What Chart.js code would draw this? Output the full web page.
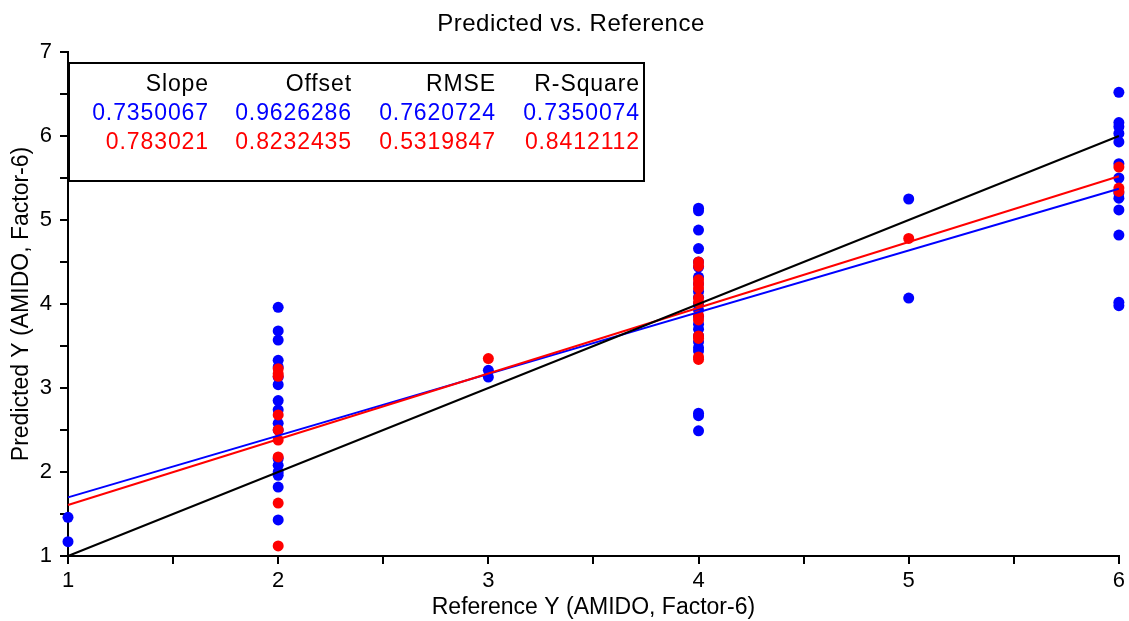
<!DOCTYPE html>
<html>
<head>
<meta charset="utf-8">
<script src="https://cdn.jsdelivr.net/npm/chart.js@4.4.1/dist/chart.umd.min.js"></script>
<style>
    body { margin: 0; background: #fff; }
    #wrap { width: 1129px; height: 621px; }
</style>
</head>
<body>
<div id="wrap"><canvas id="chart"></canvas></div>
<script>
// reference levels and predicted values
const refLevels = [1, 2, 3, 4, 5, 6];
const bluePred = [
    [1.46, 1.17],
    [3.96, 3.68, 3.57, 3.33, 3.25, 3.13, 3.04, 2.85, 2.74, 2.58, 2.50, 2.16, 2.08, 2.00, 1.96, 1.82, 1.43],
    [3.21, 3.13],
    [5.14, 5.11, 4.88, 4.66, 4.50, 4.44, 4.32, 4.24, 4.15, 4.08, 4.00, 3.93, 3.85, 3.76, 3.70, 3.62, 3.55, 3.48, 3.44, 2.70, 2.67, 2.49],
    [5.25, 4.07],
    [6.52, 6.16, 6.11, 6.03, 5.93, 5.67, 5.50, 5.32, 5.26, 5.12, 4.82, 4.02, 3.98]
];
const redPred = [
    [],
    [3.23, 3.17, 3.14, 2.68, 2.50, 2.38, 2.18, 1.63, 1.12],
    [3.35],
    [4.50, 4.45, 4.29, 4.24, 4.19, 4.07, 4.02, 3.86, 3.81, 3.62, 3.59, 3.37, 3.34],
    [4.78],
    [5.63, 5.38, 5.34]
];

// fit statistics shown in the box
const statHeaders = ["Slope", "Offset", "RMSE", "R-Square"];
const blueStats = ["0.7350067", "0.9626286", "0.7620724", "0.7350074"];
const redStats = ["0.783021", "0.8232435", "0.5319847", "0.8412112"];
const fitSlope = [0.7350067, 0.783021];
const fitOffset = [0.9626286, 0.8232435];

const FONT = "'Liberation Sans', Arial, sans-serif";

function toPoints(preds) {
    const pts = [];
    for (let i = 0; i < refLevels.length; i++) {
        for (let j = 0; j < preds[i].length; j++) {
            pts.push({ x: refLevels[i], y: preds[i][j] });
        }
    }
    return pts;
}

function fitLine(k) {
    const x0 = refLevels[0], x1 = refLevels[refLevels.length - 1];
    return [{ x: x0, y: fitSlope[k] * x0 + fitOffset[k] }, { x: x1, y: fitSlope[k] * x1 + fitOffset[k] }];
}

const extras = {
    id: 'extras',
    afterDraw(chart) {
        const ctx = chart.ctx;
        ctx.save();
        ctx.fillStyle = '#000';
        ctx.letterSpacing = '0.5px';
        ctx.font = "24px " + FONT;
        ctx.textAlign = 'center';
        ctx.textBaseline = 'alphabetic';
        ctx.fillText("Predicted vs. Reference", 571, 31);

        // stats box
        ctx.fillStyle = '#fff';
        ctx.fillRect(69, 63, 575, 118);
        ctx.strokeStyle = '#000';
        ctx.lineWidth = 2;
        ctx.strokeRect(69, 63, 575, 118);

        const colRight = [209, 352, 496, 640];
        ctx.textAlign = 'right';
        ctx.font = "23px " + FONT;
        ctx.letterSpacing = '0.9px';
        for (let i = 0; i < 4; i++) {
            ctx.fillStyle = '#000';
            ctx.fillText(statHeaders[i], colRight[i], 91);
            ctx.fillStyle = '#0000ff';
            ctx.fillText(blueStats[i], colRight[i], 120);
            ctx.fillStyle = '#ff0000';
            ctx.fillText(redStats[i], colRight[i], 149);
        }
        ctx.restore();
    }
};

const axisCommon = {
    type: 'linear',
    border: { color: '#000', width: 2 },
    grid: { drawOnChartArea: false, drawTicks: true, tickLength: 8, color: '#000', lineWidth: 2 }
};

new Chart(document.getElementById('chart'), {
    type: 'scatter',
    data: {
        datasets: [
            { data: [{ x: 1, y: 1 }, { x: 6, y: 6 }], showLine: true, borderColor: '#000', borderWidth: 2, pointRadius: 0, order: 0, clip: false },
            { data: fitLine(1), showLine: true, borderColor: '#ff0000', borderWidth: 2, pointRadius: 0, order: 1, clip: false },
            { data: fitLine(0), showLine: true, borderColor: '#0000ff', borderWidth: 2, pointRadius: 0, order: 2, clip: false },
            { data: toPoints(redPred), backgroundColor: '#ff0000', borderWidth: 0, pointRadius: 5.5, order: 3, clip: false },
            { data: toPoints(bluePred), backgroundColor: '#0000ff', borderWidth: 0, pointRadius: 5.5, order: 4, clip: false }
        ]
    },
    options: {
        responsive: true,
        maintainAspectRatio: false,
        animation: false,
        layout: { padding: { top: 52, right: 6, left: 0, bottom: 0 } },
        plugins: { legend: { display: false }, tooltip: { enabled: false } },
        scales: {
            x: Object.assign({}, axisCommon, {
                min: 1, max: 6,
                ticks: {
                    stepSize: 0.5, autoSkip: false, maxRotation: 0, padding: 4, color: '#000',
                    font: { family: FONT, size: 22 },
                    callback: v => Number.isInteger(v) ? v : ''
                },
                title: { display: true, text: 'Reference Y (AMIDO, Factor-6)', color: '#000', font: { family: FONT, size: 23 }, padding: { top: 2, bottom: 0 } },
                afterFit: s => { s.height = 65; }
            }),
            y: Object.assign({}, axisCommon, {
                min: 1, max: 7,
                ticks: {
                    stepSize: 0.5, autoSkip: false, padding: 8, color: '#000',
                    font: { family: FONT, size: 22 },
                    callback: v => Number.isInteger(v) ? v : ''
                },
                title: { display: true, text: 'Predicted Y (AMIDO, Factor-6)', color: '#000', font: { family: FONT, size: 23 }, padding: { top: 8, bottom: 0 } },
                afterFit: s => { s.width = 68; }
            })
        }
    },
    plugins: [extras]
});
</script>
</body>
</html>
